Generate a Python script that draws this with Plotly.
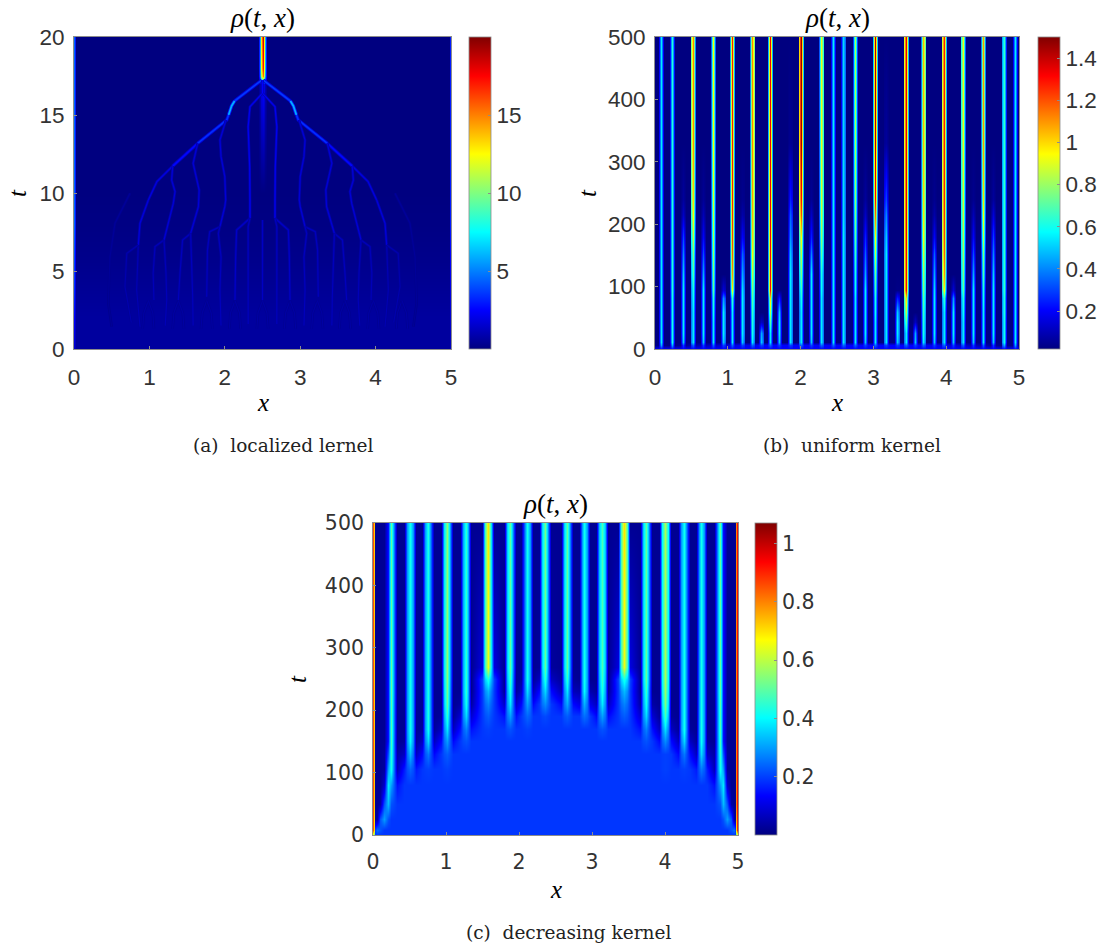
import plotly.graph_objects as go
from plotly.colors import sample_colorscale

W, H = 1102, 949
JET = [[0, "rgb(0,0,128)"], [0.125, "rgb(0,0,255)"], [0.375, "rgb(0,255,255)"],
       [0.625, "rgb(255,255,0)"], [0.875, "rgb(255,0,0)"], [1, "rgb(128,0,0)"]]
FRAME = "#8c8c8c"
FONT_AB = dict(family="Liberation Sans", size=22.5, color="#333333")
FONT_C = dict(family="DejaVu Sans", size=20.5, color="#333333")
MATH = "Liberation Serif"

# ---------- (a) localized kernel: background field (t rows, x columns)
a_t = [0, 2, 4, 6, 8, 10, 17.0, 17.25, 17.5, 18, 20]
a_x = [0, 0.012, 0.03, 2.44, 2.465, 2.485, 2.5, 2.515, 2.535, 2.56, 4.97, 4.988, 5]
a_bg_low = [0.6, 0.6, 0.4, 0.2, 0.08, 0.0, 0.0, 0.0, 0.0, 0.0, 0.0]
a_edge = [1.5, 2.5, 3.5, 4, 4.5, 4.5, 4.5, 4.5, 4.5, 4.5, 4.5]
a_edge2 = [1.2, 1.5, 2, 2.5, 3, 3, 3, 3, 3, 3, 3]
a_trunk_c = [0.6, 0.6, 0.4, 0.2, 0.08, 0.0, 2.5, 9, 15, 17, 18.5]
a_trunk_i = [0.6, 0.6, 0.4, 0.2, 0.08, 0.0, 2.0, 7, 11, 12.5, 13]
a_trunk_o = [0.6, 0.6, 0.4, 0.2, 0.08, 0.0, 1.0, 3.5, 5.5, 6, 6]

# (a) branches: times, left-hand x, right-hand x, level
branches = [
    ([17.24, 15.9], [2.49, 2.13], [2.51, 2.87], 3.6),
    ([15.9, 15.58, 15.0], [2.13, 2.09, 2.05], [2.87, 2.91, 2.95], 6.0),
    ([15.0, 14.68, 13.18], [2.05, 2.025, 1.64], [2.95, 2.975, 3.36], 3.4),
    ([13.18, 11.73], [1.64, 1.31], [3.36, 3.69], 2.6),
    ([11.73, 10.73, 9.55], [1.31, 1.10, 0.986], [3.69, 3.90, 4.014], 1.9),
    ([9.55, 8.06, 6.67], [0.986, 0.875, 0.853], [4.014, 4.125, 4.147], 1.8),
    ([6.67, 3.78, 1.43], [0.853, 0.831, 0.875], [4.147, 4.169, 4.125], 1.0),
    ([6.67, 6.13, 4.0, 2.71, 1.7], [0.853, 0.70, 0.676, 0.72, 0.76], [4.147, 4.30, 4.324, 4.28, 4.24], 0.9),
    ([9.98, 8.06, 5.9, 2.93, 1.43], [0.743, 0.544, 0.477, 0.455, 0.50], [4.257, 4.456, 4.523, 4.545, 4.50], 0.5),
    ([16.4, 15.53, 14.25, 11.69, 9.55, 8.38], [2.5, 2.334, 2.31, 2.33, 2.334, 2.334], [2.5, 2.666, 2.69, 2.67, 2.666, 2.666], 2.2),
    ([8.38, 7.63, 5.92, 3.14], [2.334, 2.157, 2.144, 2.135], [2.666, 2.843, 2.856, 2.865], 1.4),
    ([8.38, 7.84, 4.0, 1.6], [2.334, 2.31, 2.31, 2.31], [2.666, 2.69, 2.69, 2.69], 1.2),
    ([14.68, 13.4, 12.33, 11.05, 9.55, 9.12, 7.84], [2.016, 1.936, 1.95, 2.0, 2.012, 2.0, 1.936], [2.984, 3.064, 3.05, 3.0, 2.988, 3.0, 3.064], 1.7),
    ([7.84, 7.52, 6.35, 3.35], [1.936, 1.80, 1.77, 1.76], [3.064, 3.20, 3.23, 3.24], 1.2),
    ([7.84, 7.41, 5.9, 3.78, 1.5], [1.936, 1.914, 1.95, 1.936, 1.95], [3.064, 3.086, 3.05, 3.064, 3.05], 1.2),
    ([13.18, 11.9, 10.19, 9.12, 7.41], [1.64, 1.58, 1.66, 1.65, 1.547], [3.36, 3.42, 3.34, 3.35, 3.453], 1.7),
    ([7.41, 6.99, 4.85, 3.14], [1.547, 1.44, 1.406, 1.384], [3.453, 3.56, 3.594, 3.616], 1.2),
    ([7.41, 5.92, 3.35, 1.5], [1.547, 1.56, 1.574, 1.58], [3.453, 3.44, 3.426, 3.42], 1.2),
    ([11.73, 10.83, 10.09, 9.34, 6.99], [1.31, 1.295, 1.34, 1.317, 1.194], [3.69, 3.705, 3.66, 3.683, 3.806], 1.7),
    ([6.99, 6.56, 4.85, 3.14], [1.194, 1.074, 1.05, 1.06], [3.806, 3.926, 3.95, 3.94], 1.1),
    ([6.99, 4.85, 3.14, 1.5], [1.194, 1.22, 1.23, 1.21], [3.806, 3.78, 3.77, 3.79], 1.1),
    ([8.27, 3.1], [2.5, 2.5], [2.5, 2.5], 1.3),
    ([17.24, 16.4], [2.5, 2.5], [2.5, 2.5], 2.4),
]
fork_apex = [0.986, 1.384, 1.76, 2.135, 2.5, 2.865, 3.227, 3.594, 3.97, 4.35]
fork_t = [3.1, 2.3, 1.3]
fork_left = [0.0, -0.06, -0.075]
fork_right = [0.0, 0.06, 0.075]
fork_level = 0.7

# ---------- (b) uniform kernel: stripe positions and crest value at each time
b_t = [0, 6, 12, 25, 44, 60, 81, 95, 120, 153, 180, 215, 240, 330, 500, 560]
b_x = [0.078, 0.238, 0.380, 0.517, 0.659, 0.801, 0.939, 1.062, 1.2, 1.337, 1.461, 1.58,
       1.703, 1.859, 2.0, 2.143, 2.285, 2.445, 2.587, 2.743, 2.885, 3.022, 3.168, 3.329,
       3.443, 3.567, 3.686, 3.828, 3.965, 4.089, 4.226, 4.368, 4.505, 4.647, 4.789, 4.945]
b_crest = [
    [.2, .45, .55, .55, .55, .55, .55, .55, .55, .55, .55, .55, .55, .55, .55, .55],
    [.2, .45, .6, .6, .6, .6, .6, .62, .62, .62, .62, .62, .62, .62, .62, .62],
    [.2, .3, .5, .55, .55, .55, .55, .55, .5, .4, .3, .12, .06, .02, .02, .02],
    [.2, .35, .55, .55, .55, .55, .58, .6, .68, .75, .85, .95, 1.0, 1.1, 1.12, 1.12],
    [.2, .3, .5, .55, .55, .55, .55, .55, .45, .32, .2, .1, .05, .02, .02, .02],
    [.2, .35, .55, .55, .55, .58, .62, .7, .75, .8, .83, .87, .9, .95, .95, .95],
    [.2, .3, .5, .55, .55, .55, .42, .15, .02, .02, .02, .02, .02, .02, .02, .02],
    [.2, .35, .55, .55, .55, .55, .65, .95, 1.1, 1.18, 1.22, 1.25, 1.27, 1.28, 1.28, 1.28],
    [.2, .3, .5, .55, .55, .55, .55, .53, .45, .35, .2, .08, .04, .02, .02, .02],
    [.2, .35, .55, .6, .62, .65, .7, .75, .85, .95, 1.0, 1.05, 1.08, 1.12, 1.12, 1.12],
    [.2, .3, .5, .45, .12, .02, .02, .02, .02, .02, .02, .02, .02, .02, .02, .02],
    [.2, .35, .55, .55, .7, .85, 1.0, 1.3, 1.3, 1.31, 1.32, 1.33, 1.33, 1.33, 1.33, 1.33],
    [.2, .3, .5, .55, .55, .5, .25, .03, .02, .02, .02, .02, .02, .02, .02, .02],
    [.2, .3, .55, .55, .55, .55, .55, .55, .55, .5, .42, .35, .25, .05, .02, .02],
    [.2, .35, .55, .55, .55, .55, .6, .65, .75, .85, .95, 1.2, 1.3, 1.45, 1.47, 1.47],
    [.2, .3, .5, .55, .55, .55, .55, .55, .55, .4, .25, .12, .05, .02, .02, .02],
    [.2, .35, .55, .55, .55, .55, .55, .58, .6, .7, .78, .85, .88, .92, .92, .92],
    [.2, .35, .55, .55, .55, .55, .55, .55, .55, .55, .55, .55, .55, .55, .55, .55],
    [.2, .35, .55, .55, .55, .55, .55, .55, .55, .55, .55, .53, .53, .52, .52, .52],
    [.2, .35, .55, .55, .55, .55, .55, .58, .6, .65, .7, .75, .78, .82, .82, .82],
    [.2, .3, .5, .55, .55, .55, .55, .55, .45, .35, .25, .12, .06, .02, .02, .02],
    [.2, .35, .55, .55, .55, .58, .6, .65, .72, .85, .95, 1.15, 1.3, 1.42, 1.43, 1.43],
    [.2, .3, .55, .55, .55, .55, .55, .55, .55, .55, .5, .4, .3, .06, .02, .02],
    [.2, .3, .5, .55, .55, .5, .25, .03, .02, .02, .02, .02, .02, .02, .02, .02],
    [.2, .35, .55, .55, .7, .85, 1.0, 1.3, 1.3, 1.31, 1.32, 1.33, 1.33, 1.33, 1.33, 1.33],
    [.2, .3, .5, .45, .12, .02, .02, .02, .02, .02, .02, .02, .02, .02, .02, .02],
    [.2, .35, .55, .6, .62, .65, .7, .75, .8, .88, .94, .98, 1.0, 1.05, 1.05, 1.05],
    [.2, .3, .5, .55, .55, .55, .55, .53, .45, .35, .2, .08, .04, .02, .02, .02],
    [.2, .35, .55, .55, .55, .55, .65, .95, 1.1, 1.18, 1.22, 1.25, 1.27, 1.28, 1.28, 1.28],
    [.2, .3, .5, .55, .55, .55, .42, .15, .02, .02, .02, .02, .02, .02, .02, .02],
    [.2, .35, .55, .55, .55, .58, .62, .7, .75, .8, .83, .87, .88, .92, .92, .92],
    [.2, .3, .5, .55, .55, .55, .55, .55, .45, .32, .2, .1, .04, .02, .02, .02],
    [.2, .35, .55, .55, .55, .55, .58, .6, .68, .75, .85, .95, 1.0, 1.1, 1.1, 1.1],
    [.2, .3, .5, .55, .55, .55, .55, .55, .5, .4, .3, .15, .06, .02, .02, .02],
    [.2, .45, .6, .6, .6, .62, .62, .65, .65, .65, .65, .65, .65, .65, .65, .65],
    [.2, .45, .55, .55, .55, .55, .55, .55, .55, .55, .55, .55, .55, .55, .55, .55],
]
b_floor_t6 = [.03, .03, .05, .08, .1, .12, .14, .16, .18, .18, .2, .2, .2, .2, .2, .2, .2, .2,
              .2, .2, .2, .2, .2, .2, .2, .2, .18, .18, .16, .14, .12, .1, .08, .05, .03, .03]
b_halfwidth = 0.04
b_shoulder = 0.016

# ---------- (c) decreasing kernel
c_t = [0, 8, 25, 50, 80, 105, 130, 150, 170, 190, 210, 230, 250, 270, 500, 560]
c_outer_x = [0, 0.012, 0.025, 0.06, 0.10, 0.15, 0.20, 0.247, 0.33]
c_outer_left = [
    [.6, .85, .85, .85, .85, .85, .85, .85, .85, .85, .85, .85, .85, .85, .85, .85],
    [.5, .7, .7, .72, .72, .72, .72, .72, .72, .72, .72, .72, .72, .72, .72, .72],
    [.19, .2, .03, .02, .02, .02, .02, .02, .02, .02, .02, .02, .02, .02, .02, .02],
    [.19, .25, .04, .02, .02, .02, .02, .02, .02, .02, .02, .02, .02, .02, .02, .02],
    [.19, .22, .22, .04, .02, .02, .02, .02, .02, .02, .02, .02, .02, .02, .02, .02],
    [.19, .19, .30, .22, .08, .03, .03, .02, .02, .02, .02, .02, .02, .02, .02, .02],
    [.19, .19, .22, .33, .38, .30, .22, .15, .15, .15, .15, .15, .15, .15, .15, .15],
    [.19, .19, .19, .22, .30, .42, .45, .47, .48, .48, .49, .5, .5, .5, .5, .5],
    [.19, .19, .19, .19, .15, .06, .04, .02, .02, .02, .02, .02, .02, .02, .02, .02],
]
c_outer_rx = [4.67, 4.753, 4.80, 4.85, 4.90, 4.94, 4.965, 4.975, 4.985, 5, 5.02]
c_outer_right = [
    [.19, .19, .19, .19, .15, .06, .04, .02, .02, .02, .02, .02, .02, .02, .02, .02],
    [.19, .19, .19, .22, .30, .42, .45, .47, .48, .48, .49, .5, .5, .5, .5, .5],
    [.19, .19, .22, .33, .38, .30, .22, .15, .15, .15, .15, .15, .15, .15, .15, .15],
    [.19, .19, .30, .22, .08, .03, .03, .02, .02, .02, .02, .02, .02, .02, .02, .02],
    [.19, .22, .22, .04, .02, .02, .02, .02, .02, .02, .02, .02, .02, .02, .02, .02],
    [.19, .25, .04, .02, .02, .02, .02, .02, .02, .02, .02, .02, .02, .02, .02, .02],
    [.19, .2, .03, .02, .02, .02, .02, .02, .02, .02, .02, .02, .02, .02, .02, .02],
    [.5, .7, .75, .8, .8, .8, .8, .8, .8, .8, .8, .8, .8, .8, .8, .8],
    [.6, .9, .9, .92, .92, .92, .92, .92, .92, .92, .92, .92, .92, .92, .92, .92],
    [.6, .9, .9, .92, .92, .92, .92, .92, .92, .92, .92, .92, .92, .92, .92, .92],
    [.6, .9, .9, .92, .92, .92, .92, .92, .92, .92, .92, .92, .92, .92, .92, .92],
]
c_x = [0.507, 0.749, 1.009, 1.269, 1.571, 1.872, 2.114, 2.352, 2.653, 2.895, 3.137, 3.438,
       3.735, 4.0, 4.256, 4.498]
c_crest = [
    [.19, .19, .19, .19, .19, .24, .33, .40, .42, .42, .42, .42, .42, .42, .42, .42],
    [.19, .19, .19, .19, .19, .20, .26, .36, .42, .43, .43, .43, .43, .43, .43, .43],
    [.19, .19, .19, .19, .19, .20, .23, .30, .38, .45, .50, .52, .54, .55, .55, .55],
    [.19, .19, .19, .19, .19, .19, .19, .22, .27, .36, .42, .45, .45, .45, .45, .45],
    [.19, .19, .19, .19, .19, .19, .19, .19, .20, .23, .27, .33, .43, .65, .70, .70],
    [.19, .19, .19, .19, .19, .19, .19, .19, .22, .30, .38, .43, .47, .50, .50, .50],
    [.19, .19, .19, .19, .19, .19, .19, .19, .20, .24, .30, .37, .42, .42, .42, .42],
    [.19, .19, .19, .19, .19, .19, .19, .19, .19, .21, .28, .36, .44, .50, .52, .52],
    [.19, .19, .19, .19, .19, .19, .19, .19, .19, .23, .31, .38, .45, .50, .50, .50],
    [.19, .19, .19, .19, .19, .19, .19, .19, .19, .25, .32, .40, .42, .42, .42, .42],
    [.19, .19, .19, .19, .19, .19, .19, .19, .22, .30, .38, .43, .46, .48, .48, .48],
    [.19, .19, .19, .19, .19, .19, .19, .19, .19, .23, .27, .33, .43, .65, .70, .70],
    [.19, .19, .19, .19, .19, .19, .19, .22, .27, .36, .42, .46, .50, .50, .50, .50],
    [.19, .19, .19, .19, .19, .20, .20, .28, .37, .47, .53, .56, .58, .58, .58, .58],
    [.19, .19, .19, .19, .19, .20, .26, .36, .42, .42, .42, .42, .42, .42, .42, .42],
    [.19, .19, .19, .19, .19, .26, .36, .41, .42, .42, .42, .42, .42, .42, .42, .42],
]
c_floor = [
    [.19, .19, .19, .19, .19, .16, .07, .03, .02, .02, .02, .02, .02, .02, .02, .02],
    [.19, .19, .19, .19, .19, .19, .14, .07, .03, .02, .02, .02, .02, .02, .02, .02],
    [.19, .19, .19, .19, .19, .19, .19, .14, .07, .03, .02, .02, .02, .02, .02, .02],
    [.19, .19, .19, .19, .19, .19, .19, .19, .15, .09, .04, .02, .02, .02, .02, .02],
    [.19, .19, .19, .19, .19, .19, .19, .19, .19, .19, .19, .19, .20, .10, .02, .02],
    [.19, .19, .19, .19, .19, .19, .19, .19, .19, .15, .08, .03, .02, .02, .02, .02],
    [.19, .19, .19, .19, .19, .19, .19, .19, .19, .19, .14, .07, .03, .02, .02, .02],
    [.19, .19, .19, .19, .19, .19, .19, .19, .19, .19, .19, .14, .07, .03, .02, .02],
    [.19, .19, .19, .19, .19, .19, .19, .19, .19, .19, .14, .06, .03, .02, .02, .02],
    [.19, .19, .19, .19, .19, .19, .19, .19, .19, .19, .11, .05, .02, .02, .02, .02],
    [.19, .19, .19, .19, .19, .19, .19, .19, .19, .14, .07, .03, .02, .02, .02, .02],
    [.19, .19, .19, .19, .19, .19, .19, .19, .19, .19, .19, .19, .20, .10, .02, .02],
    [.19, .19, .19, .19, .19, .19, .19, .19, .15, .09, .04, .02, .02, .02, .02, .02],
    [.19, .19, .19, .19, .19, .19, .19, .14, .07, .03, .02, .02, .02, .02, .02, .02],
    [.19, .19, .19, .19, .19, .19, .14, .07, .03, .02, .02, .02, .02, .02, .02, .02],
    [.19, .19, .19, .19, .19, .16, .07, .03, .02, .02, .02, .02, .02, .02, .02, .02],
]
c_halfwidth = 0.08
c_shoulder = 0.036
shoulder_share = 0.68

x_ticks = [0, 1, 2, 3, 4, 5]
a_yticks = [0, 5, 10, 15, 20]
bc_yticks = [0, 100, 200, 300, 400, 500]
a_cb_ticks = [5, 10, 15]
b_cb_ticks = [0.2, 0.4, 0.6, 0.8, 1, 1.2, 1.4]
c_cb_ticks = [0.2, 0.4, 0.6, 0.8, 1]
a_range = [0, 20]
b_range = [0.02, 1.5]
c_range = [0, 1.07]
captions = ["(a)  localized lernel", "(b)  uniform kernel", "(c)  decreasing kernel"]
caption_centre_px = [283, 852, 568]
caption_y_px = [445, 445, 932]
t_label_px = [18, 588, 297]


def transpose(cols):
    return [list(r) for r in zip(*cols)]


def stripe_columns(cx, crest, floor, half, sh):
    xs = [cx - half, cx - sh, cx, cx + sh, cx + half]
    mid = [f + shoulder_share * (c - f) for c, f in zip(crest, floor)]
    return xs, [floor, mid, crest, mid, floor]


# assemble the grids
a_cols = [a_edge, a_edge2, a_bg_low, a_bg_low, a_trunk_o, a_trunk_i, a_trunk_c, a_trunk_i, a_trunk_o,
          a_bg_low, a_bg_low, a_edge2, a_edge]
a_z = transpose(a_cols)

b_gx, b_cols = [0], [[.2, .03] + [.02] * 14]
for i, (cx, crest) in enumerate(zip(b_x, b_crest)):
    xs, cols = stripe_columns(cx, crest, [.2, b_floor_t6[i]] + [.02] * 14, b_halfwidth, b_shoulder)
    b_gx += xs
    b_cols += cols
b_gx.append(5)
b_cols.append([.2, .03] + [.02] * 14)
b_z = transpose(b_cols)

c_gx = list(c_outer_x)
c_cols = list(c_outer_left)
for cx, crest, floor in zip(c_x, c_crest, c_floor):
    xs, cols = stripe_columns(cx, crest, floor, c_halfwidth, c_shoulder)
    c_gx += xs
    c_cols += cols
c_gx += c_outer_rx
c_cols += c_outer_right
c_z = transpose(c_cols)

# pixel frames of the three panels
frames = [(74, 451, 37, 349, 469), (655, 1019, 37, 349, 1038), (373, 738, 523, 835, 755)]
fonts = [FONT_AB, FONT_AB, FONT_C]


def colorbar(left, top, bottom, ticks, font):
    return dict(x=left / W, xanchor="left", xpad=0, ypad=0, thickness=22, thicknessmode="pixels",
                len=(bottom - top), lenmode="pixels", y=1 - top / H, yanchor="top",
                tickmode="array", tickvals=ticks, ticktext=[str(t) for t in ticks],
                ticks="inside", ticklen=3, tickwidth=0.7, tickcolor=FRAME, tickfont=font,
                outlinewidth=0.8, outlinecolor=FRAME)


fig = go.Figure()
fa, fb, fc = frames
fig.add_trace(go.Heatmap(x=a_x, y=a_t, z=a_z, colorscale=JET, zmin=a_range[0], zmax=a_range[1], zsmooth="best",
                         xaxis="x", yaxis="y", hoverinfo="skip", colorbar=colorbar(fa[4], fa[2], fa[3], a_cb_ticks, FONT_AB)))
fig.add_trace(go.Heatmap(x=b_gx, y=b_t, z=b_z, colorscale=JET, zmin=b_range[0], zmax=b_range[1], zsmooth="best",
                         xaxis="x2", yaxis="y2", hoverinfo="skip", colorbar=colorbar(fb[4], fb[2], fb[3], b_cb_ticks, FONT_AB)))
fig.add_trace(go.Heatmap(x=c_gx, y=c_t, z=c_z, colorscale=JET, zmin=c_range[0], zmax=c_range[1], zsmooth="best",
                         xaxis="x3", yaxis="y3", hoverinfo="skip", colorbar=colorbar(fc[4], fc[2], fc[3], c_cb_ticks, FONT_C)))


def jet(v):
    return sample_colorscale(JET, [v / a_range[1]])[0]


def branch(xs, ts, v):
    bold = v >= 2.5
    for width, level in (((3.4 if bold else 2.6), v * 0.5), ((1.7 if bold else 1.1), v)):
        fig.add_trace(go.Scatter(x=xs, y=ts, mode="lines", xaxis="x", yaxis="y", showlegend=False,
                                 hoverinfo="skip", line=dict(color=jet(level), width=width)))


for ts, xl, xr, v in branches:
    branch(xl, ts, v)
    if xr != xl:
        branch(xr, ts, v)
for c in fork_apex:
    branch([c + d for d in fork_left], fork_t, fork_level)
    branch([c + d for d in fork_right], fork_t, fork_level)

layout = dict(width=W, height=H, margin=dict(l=0, r=0, t=0, b=0, autoexpand=False), paper_bgcolor="white",
              plot_bgcolor="white", showlegend=False, font=dict(family="Liberation Sans", color="#333333"))
names = [("xaxis", "yaxis", "y", "x"), ("xaxis2", "yaxis2", "y2", "x2"), ("xaxis3", "yaxis3", "y3", "x3")]
yt = [(a_yticks, [0, 20]), (bc_yticks, [0, 500]), (bc_yticks, [0, 500])]
for (xn, yn, ya, xa), (l, r, t, b, _), (ticks, yr), tf in zip(names, frames, yt, fonts):
    common = dict(showgrid=False, zeroline=False, showline=True, mirror=True, linecolor=FRAME, linewidth=0.8,
                  ticks="inside", ticklen=3, tickwidth=0.7, tickcolor=FRAME, tickfont=tf, layer="above traces")
    layout[xn] = dict(domain=[l / W, r / W], range=[0, 5], anchor=ya, tickvals=x_ticks, tickangle=0,
                      ticklabelstandoff=8, **common)
    layout[yn] = dict(domain=[1 - b / H, 1 - t / H], range=yr, anchor=xa, tickvals=ticks, ticklabelstandoff=4, **common)

annotations = []


def note(text, x_px, y_px, size, family=MATH, angle=0, color="black"):
    annotations.append(dict(text=text, x=x_px / W, y=1 - y_px / H, xref="paper", yref="paper", xanchor="center",
                            yanchor="middle", showarrow=False, textangle=angle,
                            font=dict(family=family, size=size, color=color)))


for (l, r, t, b, _), cap, cx, cy, tx in zip(frames, captions, caption_centre_px, caption_y_px, t_label_px):
    mid = (l + r) / 2
    note("<i>ρ</i>(<i>t</i>, <i>x</i>)", mid, t - 19, 27)
    note("<i>x</i>", mid, b + 54, 25)
    note("<i>t</i>", tx, (t + b) / 2, 25, angle=-90)
    note(cap, cx, cy, 18.5, family="DejaVu Serif", color="#222222")
layout["annotations"] = annotations
fig.update_layout(**layout)
fig.write_html("out.html", config=dict(displayModeBar=False), post_script="document.body.style.margin='0';")
